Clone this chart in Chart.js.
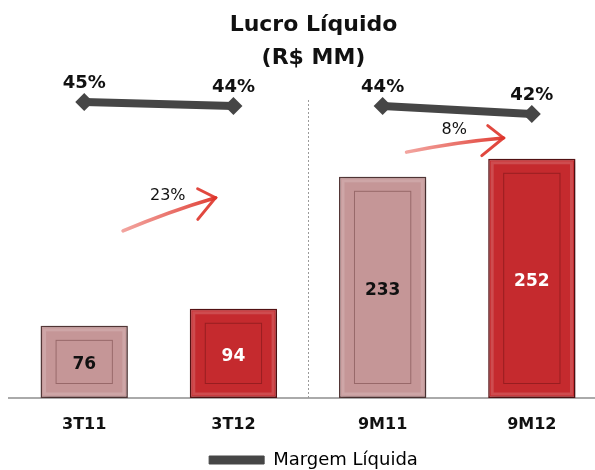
<!DOCTYPE html>
<html>
<head>
<meta charset="utf-8">
<script src="https://cdn.jsdelivr.net/npm/chart.js@4.4.1/dist/chart.umd.min.js"></script>
<style>
html,body{margin:0;padding:0;background:#fff;overflow:hidden}
#wrap{width:595px;height:470px;position:relative}
</style>
</head>
<body>
<div id="wrap"><canvas id="c"></canvas></div>
<script>
// ---- data ----
const categories = ['3T11', '3T12', '9M11', '9M12'];
const lucroLiquido = [76, 94, 233, 252];
const margemLiquida = [45, 44, 44, 42];
const marginLabels = ['45%', '44%', '44%', '42%'];
const growthLabels = ['23%', '8%'];
const titleLines = ['Lucro Líquido', '(R$ MM)'];
const seriesName = 'Margem Líquida';

// ---- styles ----
const FONT = "'DejaVu Sans', Verdana, sans-serif";
const MAUVE = '#c59697', RED = '#c52a2e';
const barFill = [MAUVE, RED, MAUVE, RED];
const barEdge = ['#5a3c3c', '#5e1416', '#5a3c3c', '#5e1416'];
const barText = ['#111111', '#ffffff', '#111111', '#ffffff'];
const LINE = '#464646';

const decor = {
  id: 'decor',
  beforeDatasetsDraw(chart) {
    const {ctx, chartArea} = chart;
    const xs = chart.scales.x, ys = chart.scales.y;
    const y0 = ys.getPixelForValue(0);
    ctx.save();
    ctx.strokeStyle = '#8e8e8e';
    ctx.lineWidth = 1.5;
    ctx.beginPath();
    ctx.moveTo(8, y0);
    ctx.lineTo(chart.width, y0);
    ctx.stroke();
    const xm = Math.round(xs.getPixelForValue(1.5)) + 0.5;
    ctx.strokeStyle = '#9a9a9a';
    ctx.lineWidth = 1;
    ctx.setLineDash([2, 2]);
    ctx.beginPath();
    ctx.moveTo(xm, chartArea.top + 20);
    ctx.lineTo(xm, y0);
    ctx.stroke();
    ctx.restore();
  },
  beforeDatasetDraw(chart, args) {
    if (args.index !== 1) return;
    const ctx = chart.ctx;
    ctx.save();
    ctx.shadowColor = 'rgba(0,0,0,0.35)';
    ctx.shadowBlur = 7;
    ctx.shadowOffsetX = 2;
    ctx.shadowOffsetY = 1;
  },
  afterDatasetDraw(chart, args) {
    if (args.index !== 1) return;
    const ctx = chart.ctx;
    ctx.restore();
    ctx.save();
    args.meta.data.forEach((el) => {
      const w = el.width, l = el.x - w / 2, t = el.y, h = el.base - el.y;
      ctx.strokeStyle = 'rgba(255,255,255,0.16)';
      ctx.lineWidth = 3;
      ctx.strokeRect(l + 4, t + 4, w - 8, h - 8);
      ctx.strokeStyle = 'rgba(50,0,0,0.3)';
      ctx.lineWidth = 1;
      ctx.strokeRect(l + 15.5, t + 14.5, w - 31, h - 29);
    });
    ctx.restore();
  },
  afterDatasetsDraw(chart, args, opts) {
    const {ctx} = chart;
    const xs = chart.scales.x, ys = chart.scales.y;
    ctx.save();
    ctx.textAlign = 'center';
    ctx.textBaseline = 'middle';
    const barMeta = chart.getDatasetMeta(1);
    barMeta.data.forEach((el, i) => {
      ctx.fillStyle = barText[i];
      ctx.font = 'bold 17px ' + FONT;
      ctx.fillText(String(lucroLiquido[i]), el.x, (el.y + el.base) / 2 + 3);
    });
    const lineMeta = chart.getDatasetMeta(0);
    lineMeta.data.forEach((el, i) => {
      ctx.fillStyle = '#111111';
      ctx.font = 'bold 18px ' + FONT;
      ctx.fillText(marginLabels[i], el.x, el.y - 19);
    });
    opts.arrows.forEach((a, k) => {
      const x0 = xs.getPixelForValue(a.from[0]), y0 = ys.getPixelForValue(a.from[1]);
      const x1 = xs.getPixelForValue(a.to[0]), y1 = ys.getPixelForValue(a.to[1]);
      const g = ctx.createLinearGradient(x0, y0, x1, y1);
      g.addColorStop(0, 'rgba(232,90,80,0.55)');
      g.addColorStop(1, 'rgba(222,52,42,0.95)');
      ctx.strokeStyle = g;
      ctx.lineCap = 'round';
      ctx.lineWidth = 3.5;
      const cx = (x0 + x1) / 2, cy = (y0 + y1) / 2 - 3;
      ctx.beginPath();
      ctx.moveTo(x0, y0);
      ctx.quadraticCurveTo(cx, cy, x1, y1);
      ctx.stroke();
      const ang = Math.atan2(y1 - cy, x1 - cx);
      ctx.strokeStyle = 'rgba(222,52,42,0.9)';
      ctx.lineWidth = 3;
      ctx.beginPath();
      ctx.moveTo(x1 + Math.cos(ang + Math.PI - 0.6) * 28, y1 + Math.sin(ang + Math.PI - 0.6) * 28);
      ctx.lineTo(x1, y1);
      ctx.lineTo(x1 + Math.cos(ang + Math.PI + 0.75) * 20, y1 + Math.sin(ang + Math.PI + 0.75) * 20);
      ctx.stroke();
      ctx.fillStyle = '#111111';
      ctx.font = '16px ' + FONT;
      ctx.fillText(growthLabels[k], xs.getPixelForValue(a.label[0]), ys.getPixelForValue(a.label[1]));
    });
    ctx.restore();
  }
};

new Chart(document.getElementById('c'), {
  data: {
    datasets: [
      {
        type: 'line',
        label: seriesName,
        yAxisID: 'y2',
        order: 0,
        data: margemLiquida.map((v, i) => ({x: i, y: v})),
        borderColor: LINE,
        backgroundColor: LINE,
        borderWidth: 8,
        pointStyle: 'rectRot',
        pointRadius: 9,
        pointBorderWidth: 0,
        pointBackgroundColor: LINE,
        tension: 0,
        segment: {
          borderColor: (c) => (c.p0DataIndex === 1 ? 'rgba(0,0,0,0)' : LINE)
        }
      },
      {
        type: 'bar',
        label: 'Lucro Líquido',
        yAxisID: 'y',
        order: 1,
        data: lucroLiquido.map((v, i) => ({x: i, y: v})),
        backgroundColor: barFill,
        borderColor: barEdge,
        borderWidth: 1.5,
        borderSkipped: false,
        categoryPercentage: 1,
        barPercentage: 0.585
      }
    ]
  },
  options: {
    responsive: true,
    maintainAspectRatio: false,
    animation: false,
    layout: {padding: {left: 32, right: 0, top: 0, bottom: -9}},
    scales: {
      x: {
        type: 'linear',
        offset: false,
        min: -0.35,
        max: 3.363,
        afterBuildTicks: (s) => { s.ticks = categories.map((_, i) => ({value: i})); },
        afterFit: (s) => { s.height = 49; },
        grid: {display: false, drawTicks: false, offset: false},
        border: {display: false},
        ticks: {
          autoSkip: false,
          maxRotation: 0,
          padding: 17,
          color: '#111111',
          font: {family: FONT, size: 16, weight: 'bold'},
          callback: (v) => categories[v]
        }
      },
      y: {display: false, min: 0, max: 335},
      y2: {display: false, min: -29, max: 50.5}
    },
    plugins: {
      title: {
        display: true,
        text: titleLines,
        color: '#111111',
        font: {family: FONT, size: 22, weight: 'bold', lineHeight: 1.5},
        padding: {top: 9, bottom: 5}
      },
      legend: {
        position: 'bottom',
        labels: {
          color: '#111111',
          font: {family: FONT, size: 18},
          boxWidth: 55,
          boxHeight: 8,
          padding: 4,
          useBorderRadius: true,
          borderRadius: 4,
          generateLabels: () => [{
            text: seriesName, fillStyle: LINE, strokeStyle: LINE, lineWidth: 1, datasetIndex: 0, hidden: false
          }]
        }
      },
      tooltip: {enabled: false},
      decor: {
        arrows: [
          {from: [0.26, 176], to: [0.88, 211], label: [0.56, 213]},
          {from: [2.16, 259], to: [2.81, 274], label: [2.48, 282]}
        ]
      }
    }
  },
  plugins: [decor]
});
</script>
</body>
</html>
